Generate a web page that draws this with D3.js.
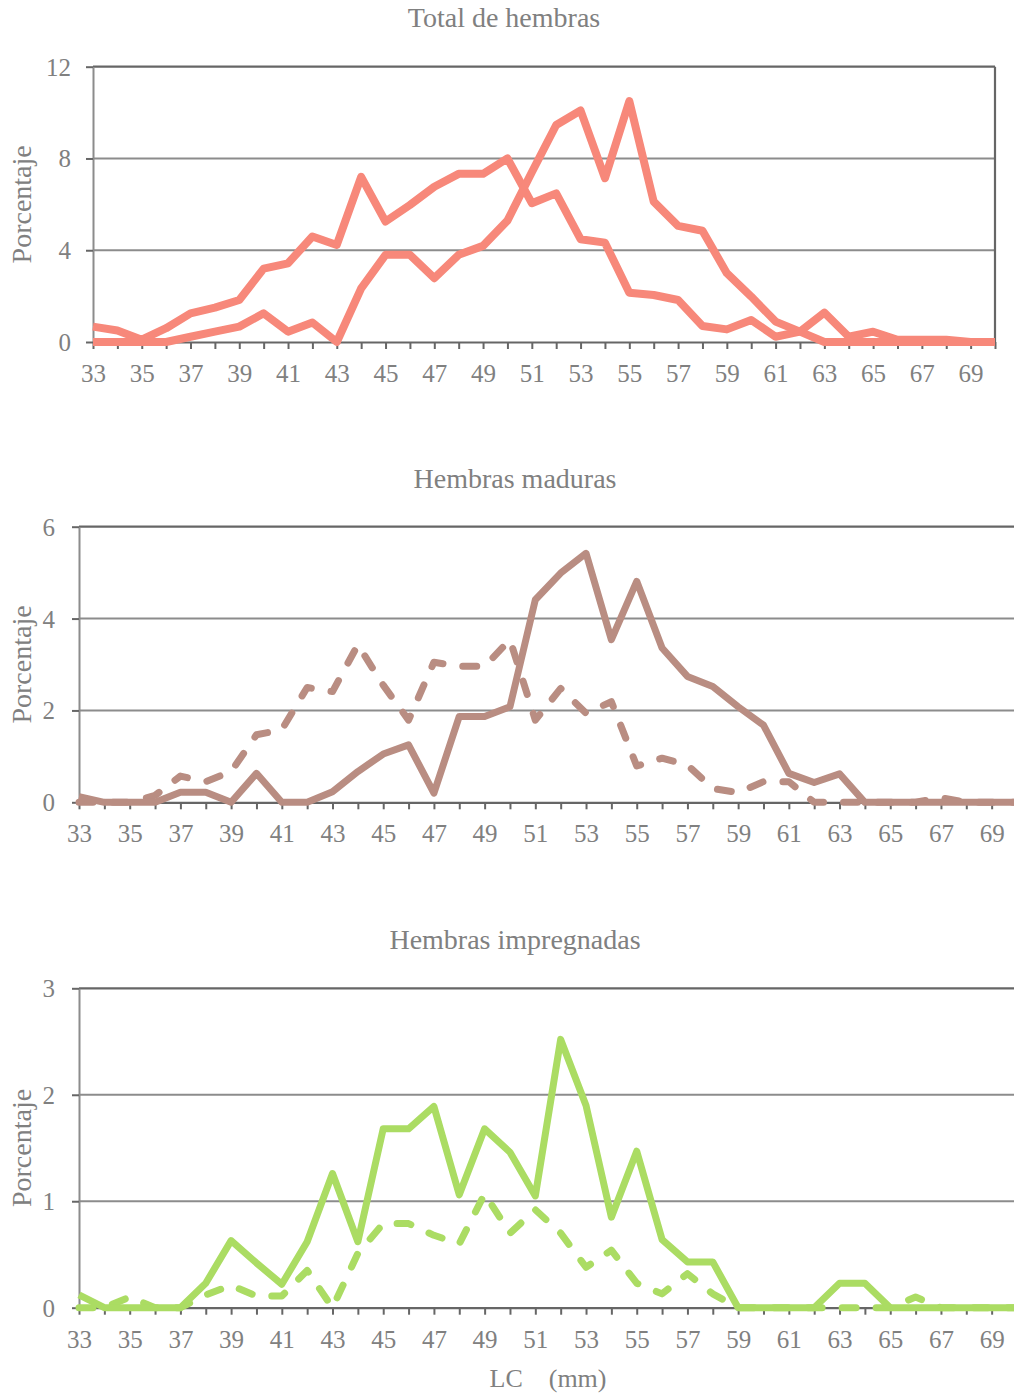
<!DOCTYPE html>
<html>
<head>
<meta charset="utf-8">
<script src="https://cdn.jsdelivr.net/npm/d3@7"></script>
<style>
  html, body { margin: 0; padding: 0; background: #ffffff; }
  svg { display: block; overflow: hidden; }
  text { font-family: "Liberation Serif", "Times New Roman", serif; fill: #808080; }
</style>
</head>
<body>
<svg id="chart" width="1014" height="1396"></svg>
<script>
// Carapace length classes (mm)
const lengthClasses = [33,34,35,36,37,38,39,40,41,42,43,44,45,46,47,48,49,50,51,52,
                       53,54,55,56,57,58,59,60,61,62,63,64,65,66,67,68,69,70];

// Total de hembras (%), two samples
const totalSerieA = [0.67,0.5,0.1,0.6,1.25,1.5,1.83,3.2,3.43,4.6,
                     4.23,7.2,5.25,5.97,6.77,7.33,7.33,8.0,6.05,6.48,
                     4.48,4.33,2.15,2.05,1.83,0.7,0.55,0.96,0.23,0.45,
                     1.28,0.23,0.45,0.1,0.1,0.1,0,0];
const totalSerieB = [0,0,0,0,0.23,0.45,0.67,1.25,0.45,0.85,
                     0,2.34,3.8,3.8,2.78,3.8,4.19,5.29,7.4,9.46,
                     10.09,7.14,10.5,6.12,5.06,4.85,3.0,1.98,0.89,0.45,
                     0,0,0,0,0,0,0,0];

// Hembras maduras (%)
const madurasContinua = [0.12,0,0,0,0.22,0.22,0,0.63,0,0,
                         0.23,0.67,1.05,1.25,0.2,1.87,1.87,2.08,4.41,4.99,
                         5.42,3.54,4.81,3.36,2.74,2.52,2.08,1.68,0.63,0.43,
                         0.62,0,0,0,0,0,0,0];
const madurasDiscontinua = [0,0,0,0.15,0.57,0.45,0.67,1.47,1.58,2.5,
                            2.41,3.43,2.55,1.79,3.05,2.96,2.96,3.54,1.79,2.48,
                            1.94,2.19,0.79,0.96,0.81,0.3,0.21,0.45,0.45,0,
                            0,0,0,0,0.1,0,0,0];

// Hembras impregnadas (%)
const impregContinua = [0.12,0,0,0,0,0.23,0.63,0.42,0.22,0.62,
                        1.26,0.62,1.68,1.68,1.89,1.06,1.68,1.46,1.05,2.52,
                        1.9,0.85,1.47,0.64,0.43,0.43,0,0,0,0,
                        0.23,0.23,0,0,0,0,0,0];
const impregDiscontinua = [0,0,0.1,0,0,0.12,0.21,0.11,0.11,0.35,
                           0,0.51,0.79,0.79,0.68,0.6,1.07,0.7,0.92,0.7,
                           0.38,0.54,0.23,0.13,0.32,0.13,0,0,0,0,
                           0,0,0,0.1,0,0,0,0];

// Axis ticks and texts
const ticksTotal = [0, 4, 8, 12];
const ticksMaduras = [0, 2, 4, 6];
const ticksImpreg = [0, 1, 2, 3];
const titles = ["Total de hembras", "Hembras maduras", "Hembras impregnadas"];
const yTitle = "Porcentaje";
const xTitle = "LC\u3000(mm)";

const svg = d3.select("#chart");

function panel(opt) {
  const x = d3.scaleLinear().domain([lengthClasses[0], lengthClasses[lengthClasses.length - 1]])
    .range([opt.left, opt.right]);
  const yMax = opt.ticks[opt.ticks.length - 1];
  const y = d3.scaleLinear().domain([0, yMax]).range([opt.bottom, opt.top]);
  const g = svg.append("g");

  // horizontal gridlines
  g.selectAll("line.grid").data(opt.ticks.slice(1, -1)).enter().append("line")
    .attr("x1", opt.left).attr("x2", opt.right)
    .attr("y1", d => y(d)).attr("y2", d => y(d))
    .attr("stroke", "#8c8c8c").attr("stroke-width", 2);

  // top and right border of plot area
  g.append("line").attr("x1", opt.left).attr("x2", opt.right)
    .attr("y1", y(yMax)).attr("y2", y(yMax))
    .attr("stroke", "#666666").attr("stroke-width", 2.2);
  g.append("line").attr("x1", opt.right).attr("x2", opt.right)
    .attr("y1", opt.top).attr("y2", opt.bottom)
    .attr("stroke", "#666666").attr("stroke-width", 2.2);

  // y axis
  const yAxis = g.append("g").attr("transform", `translate(${opt.left},0)`)
    .call(d3.axisLeft(y).tickValues(opt.ticks).tickFormat(d3.format("d")).tickSize(7).tickSizeOuter(0));
  yAxis.select(".domain").attr("stroke", "#8c8c8c").attr("stroke-width", 2);
  yAxis.selectAll(".tick line").attr("stroke", "#666666").attr("stroke-width", 2);
  yAxis.selectAll(".tick text").attr("x", -opt.yLabelGap).attr("dy", "0.34em")
    .style("font-size", "25px").attr("fill", "#808080");

  // x axis
  const xAxis = g.append("g").attr("transform", `translate(0,${opt.bottom})`)
    .call(d3.axisBottom(x).tickValues(lengthClasses).tickSize(7).tickSizeOuter(0)
      .tickFormat(d => d % 2 === 1 ? d : ""));
  xAxis.select(".domain").attr("stroke", "#666666").attr("stroke-width", 2.2);
  xAxis.selectAll(".tick line").attr("stroke", "#666666").attr("stroke-width", 2);
  xAxis.selectAll(".tick text").attr("y", 40).attr("dy", null)
    .style("font-size", "25px").attr("fill", "#808080");

  // series
  const line = d3.line().x((d, i) => x(lengthClasses[i])).y(d => y(d));
  opt.series.forEach(s => {
    g.append("path").datum(s.values)
      .attr("d", line)
      .attr("fill", "none")
      .attr("stroke", opt.color)
      .attr("stroke-width", opt.width)
      .attr("stroke-linejoin", "round")
      .attr("stroke-linecap", s.dashed ? "round" : "butt")
      .attr("stroke-dasharray", s.dashed ? "14 20" : null);
  });

  // title
  g.append("text").attr("x", opt.titleX).attr("y", opt.titleY)
    .attr("text-anchor", "middle").style("font-size", "28px").text(opt.title);

  // y title
  g.append("text")
    .attr("transform", `translate(31,${(opt.top + opt.bottom) / 2}) rotate(-90)`)
    .attr("text-anchor", "middle").style("font-size", "28px").text(yTitle);
}

panel({
  left: 93, right: 995, top: 66.7, bottom: 342, ticks: ticksTotal, yLabelGap: 22,
  color: "#f7887a", width: 8, title: titles[0], titleX: 504, titleY: 27,
  series: [{ values: totalSerieA }, { values: totalSerieB }]
});

panel({
  left: 79, right: 1017, top: 526.7, bottom: 802.3, ticks: ticksMaduras, yLabelGap: 24,
  color: "#b98d82", width: 7, title: titles[1], titleX: 515, titleY: 488,
  series: [{ values: madurasDiscontinua, dashed: true }, { values: madurasContinua }]
});

panel({
  left: 79, right: 1017, top: 988.3, bottom: 1307.7, ticks: ticksImpreg, yLabelGap: 24,
  color: "#abdc63", width: 7, title: titles[2], titleX: 515, titleY: 949,
  series: [{ values: impregDiscontinua, dashed: true }, { values: impregContinua }]
});

// x axis title
svg.append("text").attr("x", 548).attr("y", 1387).attr("text-anchor", "middle")
  .style("font-size", "26px").text(xTitle);
</script>
</body>
</html>
